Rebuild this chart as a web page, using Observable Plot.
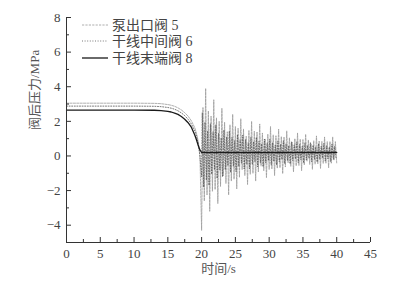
<!DOCTYPE html>
<html><head><meta charset="utf-8">
<script src="https://cdn.jsdelivr.net/npm/d3@7"></script>
<script src="https://cdn.jsdelivr.net/npm/@observablehq/plot@0.6"></script>
<style>
body{margin:0;background:#fff;}
#wrap{position:relative;width:415px;height:284px;}
#legend{position:absolute;left:0;top:0;pointer-events:none;}
</style></head><body><div id="wrap"></div>
<script>
const seriesNames = ["泵出口阀 5", "干线中间阀 6", "干线末端阀 8"];
const xLabel = "时间/s";
const yLabel = "阀后压力/MPa";
const xTicks = [0, 5, 10, 15, 20, 25, 30, 35, 40, 45];
const xMinor = [2.5, 7.5, 12.5, 17.5, 22.5, 27.5, 32.5, 37.5, 42.5];
const yTicks = [-4, -2, 0, 2, 4, 6, 8];
const yMinor = [-3, -1, 1, 3, 5, 7];

// steady part and closing of valves (t < 20 s)
const tPre = [0, 10, 13, 14, 15, 15.5, 16, 16.5, 17, 17.5, 18, 18.5, 19, 19.25, 19.5, 19.75];
const pumpPre  = [3.05, 3.05, 3.04, 3.02, 2.97, 2.93, 2.87, 2.78, 2.66, 2.5, 2.3, 2.02, 1.62, 1.3, 0.85, 0.1];
const midPre   = [2.88, 2.88, 2.87, 2.85, 2.8, 2.76, 2.7, 2.61, 2.49, 2.33, 2.12, 1.84, 1.44, 1.15, 0.7, 0.0];
const endPre   = [2.65, 2.65, 2.64, 2.62, 2.58, 2.54, 2.48, 2.4, 2.28, 2.12, 1.92, 1.65, 1.2, 0.92, 0.6, 0.35];

// oscillation after closing, pump outlet valve 5: samples every 0.2 s from 20 s to 40 s
const pumpOsc = [
 -4.3, 2.8, -2.6, 3.9, -2.25, 2.6, -3.2, 2.3, -2.04, 3.25,
 -1.94, 2.2, -2.75, 2.0, -1.76, 2.75, -1.15, 1.95, -1.59, 1.4,
 -2.25, 1.8, -1.45, 2.4, -1.34, 1.7, -1.9, 1.6, -1.24, 2.15,
 -0.79, 1.55, -1.13, 1.14, -1.65, 1.47, -1.06, 2.0, -1.0, 1.43,
 -1.45, 1.38, -0.92, 1.85, -0.58, 1.33, -0.85, 0.99, -1.25, 1.26,
 -0.78, 1.7, -0.75, 1.22, -1.13, 1.17, -0.71, 1.55, -0.68, 1.12,
 -1.02, 1.09, -0.64, 1.45, -0.39, 1.05, -0.6, 0.8, -0.92, 1.0,
 -0.57, 1.33, -0.55, 0.97, -0.85, 0.95, -0.52, 1.25, -0.3, 0.92,
 -0.49, 0.7, -0.77, 0.88, -0.47, 1.16, -0.45, 0.86, -0.72, 0.84,
 -0.43, 1.1, -0.42, 0.83, -0.68, 0.83, -0.42, 1.1, -0.24, 0.83,
 -0.42
];
// middle valve 6: value at 20.0 s, then samples every 0.2 s from 20.1 s
const midOsc = [
 -1.2,
 2.5, -1.8, 1.95, -1.4, 1.45, -1.7, 1.85, -1.05, 1.4, -0.8,
 1.8, -1.3, 1.3, -0.82, 1.05, -1.2, 1.5, -0.8, 1.1, -0.56,
 1.44, -0.95, 1.08, -0.6, 0.88, -0.91, 1.24, -0.6, 0.94, -0.42,
 1.21, -0.75, 0.94, -0.48, 0.77, -0.74, 1.08, -0.49, 0.83, -0.33,
 1.08, -0.63, 0.85, -0.4, 0.7, -0.62, 0.97, -0.4, 0.75, -0.27,
 0.97, -0.52, 0.76, -0.32, 0.64, -0.52, 0.87, -0.33, 0.68, -0.21,
 0.88, -0.44, 0.7, -0.26, 0.59, -0.45, 0.81, -0.27, 0.64, -0.17,
 0.82, -0.38, 0.66, -0.22, 0.56, -0.4, 0.76, -0.24, 0.61, -0.14,
 0.77, -0.33, 0.62, -0.19, 0.53, -0.35, 0.71, -0.2, 0.57, -0.12,
 0.73, -0.3, 0.59, -0.17, 0.51, -0.32, 0.69, -0.19, 0.56, -0.11
];
// end valve 8: settles at constant pressure
const tEndPost = [20, 40];
const endPost = [0.2, 0.2];

const tPump = d3.range(pumpOsc.length).map(k => 20 + 0.2 * k);
const tMid = [20, ...d3.range(midOsc.length - 1).map(k => 20.1 + 0.2 * k)];

const pumpData = [...tPre.map((t, i) => ({t, v: pumpPre[i]})), ...tPump.map((t, i) => ({t, v: pumpOsc[i]}))];
const midData  = [...tPre.map((t, i) => ({t, v: midPre[i]})), ...tMid.map((t, i) => ({t, v: midOsc[i]}))];
const endData  = [...tPre.map((t, i) => ({t, v: endPre[i]})), ...tEndPost.map((t, i) => ({t, v: endPost[i]}))];

const W = 415, H = 284, mL = 66, mR = 45, mT = 17, mB = 42;
const fw = W - mL - mR, fh = H - mT - mB;
const styles = [
  {stroke: "#9a9a9a", strokeWidth: 0.8, strokeDasharray: "2.2,1.2"},
  {stroke: "#555", strokeWidth: 0.8, strokeDasharray: "1,1.6"},
  {stroke: "#1a1a1a", strokeWidth: 1.3, strokeDasharray: null}
];
const fmt = d => d < 0 ? "\u2212" + (-d) : String(d);

const chart = Plot.plot({
  width: W, height: H,
  marginLeft: mL, marginRight: mR, marginTop: mT, marginBottom: mB,
  x: {domain: [0, 45]},
  y: {domain: [-5, 8]},
  style: {fontFamily: "'Liberation Serif','Noto Sans CJK SC',serif", fontSize: "13px", color: "#444", background: "#fff"},
  marks: [
    Plot.line(pumpData, {x: "t", y: "v", ...styles[0]}),
    Plot.line(midData, {x: "t", y: "v", ...styles[1]}),
    Plot.line(endData, {x: "t", y: "v", ...styles[2]}),
    Plot.ruleX([0], {stroke: "#333"}),
    Plot.ruleY([-5], {stroke: "#333"}),
    Plot.ruleX(xTicks, {stroke: "#333", insetTop: fh - 5}),
    Plot.ruleX(xMinor, {stroke: "#333", insetTop: fh - 3}),
    Plot.ruleY(yTicks, {stroke: "#333", insetRight: fw - 5}),
    Plot.ruleY(yMinor, {stroke: "#333", insetRight: fw - 3}),
    Plot.axisX({ticks: xTicks, tickSize: 0, tickPadding: 6, label: null, tickFormat: fmt}),
    Plot.axisY({ticks: yTicks, tickSize: 0, tickPadding: 6, label: null, tickFormat: fmt}),
    Plot.text([xLabel], {frameAnchor: "bottom", dy: 30, fontSize: 13, fill: "#555"}),
    Plot.text([yLabel], {frameAnchor: "left", dx: -32, rotate: -90, fontSize: 13, fill: "#555"})
  ]
});
const wrap = document.getElementById("wrap");
wrap.appendChild(chart);

// legend overlay
const leg = d3.select(wrap).append("svg").attr("id", "legend").attr("width", W).attr("height", H);
const rowsY = [25, 41, 58];
seriesNames.forEach((name, i) => {
  leg.append("line").attr("x1", 82).attr("x2", 108).attr("y1", rowsY[i]).attr("y2", rowsY[i])
    .attr("stroke", styles[i].stroke).attr("stroke-width", styles[i].strokeWidth)
    .attr("stroke-dasharray", styles[i].strokeDasharray);
  leg.append("text").attr("x", 112).attr("y", rowsY[i]).attr("dy", "0.35em")
    .attr("font-family", "'Liberation Serif','Noto Sans CJK SC',serif").attr("font-size", 14)
    .attr("fill", "#444").text(name);
});
</script></body></html>
